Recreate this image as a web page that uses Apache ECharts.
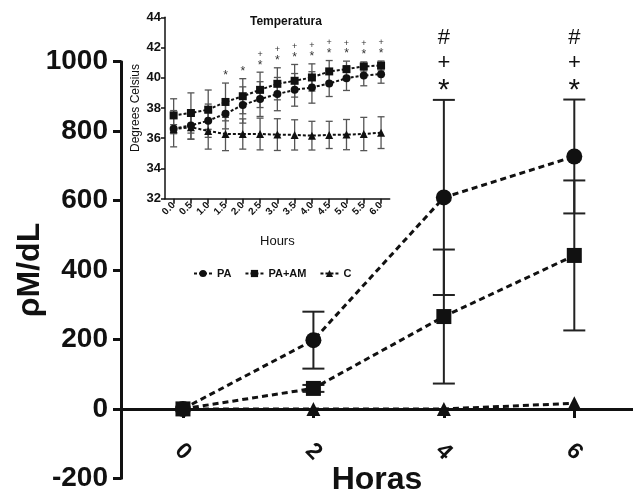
<!DOCTYPE html>
<html>
<head>
<meta charset="utf-8">
<script src="https://cdn.jsdelivr.net/npm/echarts@6/dist/echarts.min.js"></script>
<style>
  html, body { margin: 0; padding: 0; background: #fff; }
  #chart { width: 633px; height: 497px; }
</style>
</head>
<body>
<div id="chart"></div>
<script>
// 主图数据 (Horas vs ρM/dL)
const horas = [0, 2, 4, 6];
const paMain = [0, 198, 609, 727];
const paMainErr = [0, 82, 281, 164];
const paamMain = [0, 59, 266, 442];
const paamMainErr = [0, 10, 193, 216];
const cMain = [0, 0, 0, 16];
const cMainErr = [0, 0, 0, 0];
const mainMarks = ['', '', '*+#', '*+#'];
const mainXTicks = [0, 2, 4, 6];

// 插图数据 (Temperatura)
const hours = [0, 0.5, 1, 1.5, 2, 2.5, 3, 3.5, 4, 4.5, 5, 5.5, 6];
const paTemp = [36.63, 36.85, 37.16, 37.62, 38.2, 38.59, 38.92, 39.2, 39.36, 39.62, 39.97, 40.15, 40.24];
const paTempErr = [1.2, 0.9, 1.1, 1.0, 1.2, 1.15, 1.1, 1.08, 1.04, 0.86, 0.81, 0.68, 0.6];
const paamTemp = [37.51, 37.67, 37.89, 38.4, 38.78, 39.2, 39.6, 39.8, 40.02, 40.42, 40.57, 40.75, 40.81];
const paamTempErr = [1.1, 1.33, 1.3, 1.25, 1.16, 1.17, 1.06, 1.08, 0.9, 0.72, 0.53, 0.3, 0.3];
const cTemp = [36.6, 36.73, 36.48, 36.28, 36.28, 36.28, 36.24, 36.22, 36.17, 36.22, 36.24, 36.28, 36.37];
const cTempErr = [0.3, 0.8, 1.2, 1.1, 1.0, 1.05, 1.05, 1.0, 0.95, 0.9, 1.0, 1.1, 1.05];
const tempMarks = ['', '', '', '*', '*', '*+', '*+', '*+', '*+', '*+', '*+', '*+', '*+'];

const FONT = 'Liberation Sans, Arial, sans-serif';

function pairs(xs, ys) {
  return xs.map((x, i) => [x, ys[i]]);
}

function errData(xs, ys, es) {
  return xs.map((x, i) => [x, ys[i] - es[i], ys[i] + es[i]]).filter((d, i) => es[i] > 0);
}

function topData(xs, groups) {
  return xs.map((x, i) => [x, Math.max(...groups.map(g => g[0][i] + g[1][i]))]);
}

// 误差线
function errorRender(capW, lineW, color) {
  return function (params, api) {
    const x = api.value(0);
    const lo = api.coord([x, api.value(1)]);
    const hi = api.coord([x, api.value(2)]);
    const style = { stroke: color, lineWidth: lineW };
    return {
      type: 'group',
      children: [
        { type: 'line', shape: { x1: hi[0], y1: hi[1], x2: lo[0], y2: lo[1] }, style },
        { type: 'line', shape: { x1: hi[0] - capW / 2, y1: hi[1], x2: hi[0] + capW / 2, y2: hi[1] }, style },
        { type: 'line', shape: { x1: lo[0] - capW / 2, y1: lo[1], x2: lo[0] + capW / 2, y2: lo[1] }, style }
      ]
    };
  };
}

// 显著性标记
function markRender(marks, offsets, fontSize, color) {
  return function (params, api) {
    const s = marks[params.dataIndex];
    if (!s) return null;
    const p = api.coord([api.value(0), api.value(1)]);
    return {
      type: 'group',
      children: s.split('').map((ch, k) => ({
        type: 'text',
        x: p[0],
        y: p[1] - offsets[k],
        style: {
          text: ch,
          fill: color,
          font: (ch === '*' ? fontSize * 1.35 : fontSize) + 'px ' + FONT,
          align: 'center',
          verticalAlign: 'middle'
        }
      }))
    };
  };
}

const chart = echarts.init(document.getElementById('chart'));

const mainLine = { type: [6, 4], width: 3, color: '#111' };
const tempLine = { type: [3, 2], width: 2, color: '#111' };

chart.setOption({
  backgroundColor: '#fff',
  animation: false,
  title: {
    text: 'Temperatura',
    left: 245,
    top: 11,
    textStyle: { fontFamily: FONT, fontSize: 12, fontWeight: 'bold', color: '#111' }
  },
  legend: {
    data: ['PA', 'PA+AM', 'C'],
    left: 188,
    top: 263,
    itemWidth: 18,
    itemHeight: 9,
    itemGap: 13,
    lineStyle: { width: 2, type: [3, 2] },
    textStyle: { fontFamily: FONT, fontSize: 11, fontWeight: 'bold', color: '#111' }
  },
  grid: [
    // 0: 主图 y 轴 (-200 ~ 1000)
    { left: 121, right: 0, top: 61.7, bottom: 18.7, outerBoundsMode: 'none' },
    // 1: 主图绘图区 (0 ~ 1000)，x 轴在 0 处
    { left: 121, right: 0, top: 61.7, bottom: 88.1, outerBoundsMode: 'none' },
    // 2: 插图
    { left: 165, right: 243.3, top: 17.3, bottom: 298.3, outerBoundsMode: 'none' }
  ],
  xAxis: [
    { type: 'value', gridIndex: 0, show: false, min: -0.95, max: 6.9 },
    {
      type: 'value',
      gridIndex: 1,
      min: -0.95,
      max: 6.9,
      name: 'Horas',
      nameLocation: 'middle',
      nameGap: 55,
      nameMoveOverlap: false,
      nameTextStyle: { fontFamily: FONT, fontSize: 32, fontWeight: 'bold', color: '#111' },
      axisLine: { onZero: false, lineStyle: { color: '#111', width: 3 } },
      axisTick: { show: true, customValues: mainXTicks, length: 9, lineStyle: { width: 3, color: '#111' } },
      axisLabel: {
        customValues: mainXTicks,
        rotate: -45,
        margin: 43,
        align: 'center',
        verticalAlign: 'middle',
        formatter: v => String(v),
        fontFamily: FONT,
        fontSize: 23,
        fontWeight: 'bold',
        color: '#111'
      },
      splitLine: { show: false }
    },
    {
      type: 'value',
      gridIndex: 2,
      min: -0.25,
      max: 6.25,
      name: 'Hours',
      nameLocation: 'middle',
      nameGap: 36,
      nameTextStyle: { fontFamily: FONT, fontSize: 13, color: '#111' },
      axisLine: { onZero: false, lineStyle: { color: '#111', width: 1.5 } },
      axisTick: { show: true, customValues: hours, length: 5, lineStyle: { width: 1.5, color: '#111' } },
      axisLabel: {
        customValues: hours,
        rotate: 45,
        margin: 5,
        formatter: v => v.toFixed(1),
        fontFamily: FONT,
        fontSize: 10,
        fontWeight: 'bold',
        color: '#111'
      },
      splitLine: { show: false }
    }
  ],
  yAxis: [
    {
      type: 'value',
      gridIndex: 0,
      min: -200,
      max: 1000,
      interval: 200,
      name: 'ρM/dL',
      nameLocation: 'middle',
      nameGap: 75,
      nameMoveOverlap: false,
      nameTextStyle: { fontFamily: FONT, fontSize: 32, fontWeight: 'bold', color: '#111' },
      axisLine: { show: true, onZero: false, lineStyle: { color: '#111', width: 3 } },
      axisTick: { show: true, length: 8, lineStyle: { width: 3, color: '#111' } },
      axisLabel: { margin: 13, formatter: v => String(v), fontFamily: FONT, fontSize: 28, fontWeight: 'bold', color: '#111' },
      splitLine: { show: false }
    },
    { type: 'value', gridIndex: 1, show: false, min: 0, max: 1000 },
    {
      type: 'value',
      gridIndex: 2,
      min: 32,
      max: 44,
      interval: 2,
      name: 'Degrees Celsius',
      nameLocation: 'middle',
      nameGap: 23,
      nameTextStyle: { fontFamily: FONT, fontSize: 12, color: '#111' },
      axisLine: { show: true, onZero: false, lineStyle: { color: '#111', width: 1.5 } },
      axisTick: { show: true, length: 4, lineStyle: { width: 1.5, color: '#111' } },
      axisLabel: { margin: 4, fontFamily: FONT, fontSize: 13, fontWeight: 'bold', color: '#111' },
      splitLine: { show: false }
    }
  ],
  series: [
    // 主图误差线
    {
      type: 'custom', xAxisIndex: 1, yAxisIndex: 1, z: 1, silent: true, clip: false,
      renderItem: errorRender(22, 2, '#222'),
      data: errData(horas, paMain, paMainErr)
    },
    {
      type: 'custom', xAxisIndex: 1, yAxisIndex: 1, z: 1, silent: true, clip: false,
      renderItem: errorRender(22, 2, '#222'),
      data: errData(horas, paamMain, paamMainErr)
    },
    {
      name: 'PA', type: 'line', xAxisIndex: 1, yAxisIndex: 1, z: 3, clip: false,
      symbol: 'circle', symbolSize: 16,
      itemStyle: { color: '#111' }, lineStyle: mainLine,
      data: pairs(horas, paMain)
    },
    {
      name: 'C', type: 'line', xAxisIndex: 1, yAxisIndex: 1, z: 3, clip: false,
      symbol: 'triangle', symbolSize: 14,
      itemStyle: { color: '#111' }, lineStyle: mainLine,
      data: pairs(horas, cMain)
    },
    {
      name: 'PA+AM', type: 'line', xAxisIndex: 1, yAxisIndex: 1, z: 4, clip: false,
      symbol: 'rect', symbolSize: 15,
      itemStyle: { color: '#111' }, lineStyle: mainLine,
      data: pairs(horas, paamMain)
    },
    {
      type: 'custom', xAxisIndex: 1, yAxisIndex: 1, z: 5, silent: true, clip: false,
      renderItem: markRender(mainMarks, [9, 37, 62], 22, '#111'),
      data: topData(horas, [[paMain, paMainErr], [paamMain, paamMainErr]])
    },
    // 插图：温度
    {
      type: 'custom', xAxisIndex: 2, yAxisIndex: 2, z: 1, silent: true,
      renderItem: errorRender(7, 1.3, '#555'),
      data: errData(hours, paTemp, paTempErr)
    },
    {
      type: 'custom', xAxisIndex: 2, yAxisIndex: 2, z: 1, silent: true,
      renderItem: errorRender(7, 1.3, '#555'),
      data: errData(hours, paamTemp, paamTempErr)
    },
    {
      type: 'custom', xAxisIndex: 2, yAxisIndex: 2, z: 1, silent: true,
      renderItem: errorRender(7, 1.3, '#555'),
      data: errData(hours, cTemp, cTempErr)
    },
    {
      name: 'C', type: 'line', xAxisIndex: 2, yAxisIndex: 2, z: 3,
      symbol: 'triangle', symbolSize: 8,
      itemStyle: { color: '#111' }, lineStyle: tempLine,
      data: pairs(hours, cTemp)
    },
    {
      name: 'PA', type: 'line', xAxisIndex: 2, yAxisIndex: 2, z: 3,
      symbol: 'circle', symbolSize: 8,
      itemStyle: { color: '#111' }, lineStyle: tempLine,
      data: pairs(hours, paTemp)
    },
    {
      name: 'PA+AM', type: 'line', xAxisIndex: 2, yAxisIndex: 2, z: 3,
      symbol: 'rect', symbolSize: 8,
      itemStyle: { color: '#111' }, lineStyle: tempLine,
      data: pairs(hours, paamTemp)
    },
    {
      type: 'custom', xAxisIndex: 2, yAxisIndex: 2, z: 5, silent: true, clip: false,
      renderItem: markRender(tempMarks, [7, 18], 9, '#333'),
      data: topData(hours, [[paTemp, paTempErr], [paamTemp, paamTempErr], [cTemp, cTempErr]])
    }
  ]
});
</script>
</body>
</html>
